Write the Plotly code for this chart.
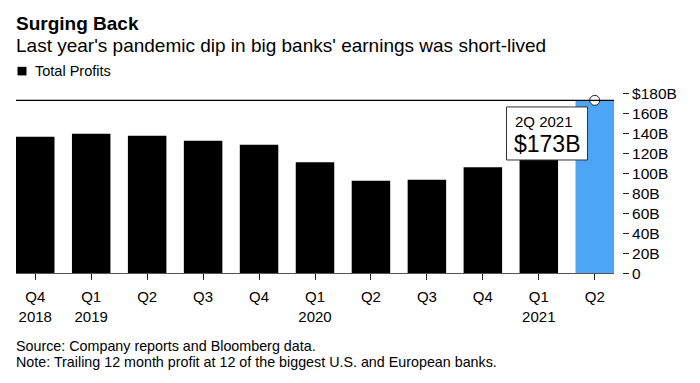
import plotly.graph_objects as go

quarters = ["Q4<br>2018", "Q1<br>2019", "Q2", "Q3", "Q4", "Q1<br>2020", "Q2", "Q3", "Q4", "Q1<br>2021", "Q2"]
profits = [136.5, 139.5, 137.5, 132.5, 128.5, 111, 92.5, 93.5, 106, 140, 173]
bar_colors = ["#000000"] * 10 + ["#4da6f5"]
ytick_vals = [0, 20, 40, 60, 80, 100, 120, 140, 160, 180]
ytick_text = ["0", "20B", "40B", "60B", "80B", "100B", "120B", "140B", "160B", "$180B"]
latest_label = "2Q 2021"
latest_value = profits[-1]

W, H = 700, 383
FONT = "Liberation Sans, Arial, Helvetica, sans-serif"

def px(x):
    return x / W

def py(y):
    return 1 - y / H

xs = list(range(len(profits)))
half = 0.344
XDOM = [px(16), px(614)]
YDOM = [py(276.5), py(88.3)]

fig = go.Figure()
fig.add_trace(go.Bar(x=xs, y=profits, marker=dict(color=bar_colors, line=dict(width=0)),
                     width=2 * half, hoverinfo="skip", showlegend=False))
fig.add_trace(go.Scatter(x=[xs[-1]], y=[latest_value], mode="markers", xaxis="x2", yaxis="y2",
                         marker=dict(size=10, color="white", line=dict(color="#222", width=1)),
                         hoverinfo="skip", showlegend=False, cliponaxis=False))

fig.add_shape(type="line", xref="paper", yref="y", x0=XDOM[0], x1=XDOM[1], y0=latest_value, y1=latest_value,
              line=dict(color="black", width=1.2), layer="above")
fig.add_shape(type="rect", xref="paper", yref="paper", x0=px(506.5), x1=px(587.5), y0=py(158), y1=py(102.5),
              line=dict(color="#333", width=1), fillcolor="white", layer="above")
fig.add_shape(type="rect", xref="paper", yref="paper", x0=px(17.5), x1=px(26.5), y0=py(69.5), y1=py(60.5),
              line=dict(width=0), fillcolor="black")

annotations = [
    dict(text="<b>Surging Back</b>", x=px(15), y=py(15), font=dict(size=19, color="black")),
    dict(text="Last year's pandemic dip in big banks' earnings was short-lived", x=px(15), y=py(38.5),
         font=dict(size=19, color="black")),
    dict(text="Total Profits", x=px(34), y=py(64.5), font=dict(size=14.5, color="black")),
    dict(text="Source: Company reports and Bloomberg data.", x=px(15), y=py(353), font=dict(size=14.3, color="black")),
    dict(text="Note: Trailing 12 month profit at 12 of the biggest U.S. and European banks.", x=px(15), y=py(369.7),
         font=dict(size=14.3, color="black")),
    dict(text=latest_label, x=px(514), y=py(118), font=dict(size=15, color="black")),
    dict(text="$" + f"{latest_value:.0f}" + "B", x=px(513), y=py(141), font=dict(size=23, color="black")),
]
for a in annotations:
    a.update(xref="paper", yref="paper", xanchor="left", yanchor="middle", showarrow=False, borderpad=0)

fig.update_layout(
    width=W, height=H, margin=dict(l=0, r=0, t=0, b=0),
    paper_bgcolor="white", plot_bgcolor="white",
    font=dict(family=FONT, color="black"),
    annotations=annotations,
    xaxis=dict(domain=XDOM, range=[-half, len(profits) - 1 + half],
               tickmode="array", tickvals=xs, ticktext=quarters,
               ticks="outside", ticklen=6, tickcolor="#222", tickwidth=1,
               ticklabelstandoff=4,
               showgrid=False, zeroline=False, showline=True, linecolor="#555", linewidth=1,
               tickfont=dict(size=15, color="black")),
    yaxis=dict(domain=YDOM, range=[0, 180], side="right", anchor="free",
               position=px(622), tickmode="array", tickvals=ytick_vals, ticktext=ytick_text,
               ticks="outside", ticklen=6, tickcolor="#222", tickwidth=1,
               showgrid=False, zeroline=False, showline=False,
               tickfont=dict(size=15.5, color="black")),
    xaxis2=dict(overlaying="x", range=[-half, len(profits) - 1 + half], visible=False, domain=XDOM),
    yaxis2=dict(overlaying="y", range=[0, 180], visible=False, domain=YDOM),
)

fig.write_html("out.html", config={"displayModeBar": False},
               post_script="document.body.style.margin='0';document.body.style.overflow='hidden';")
